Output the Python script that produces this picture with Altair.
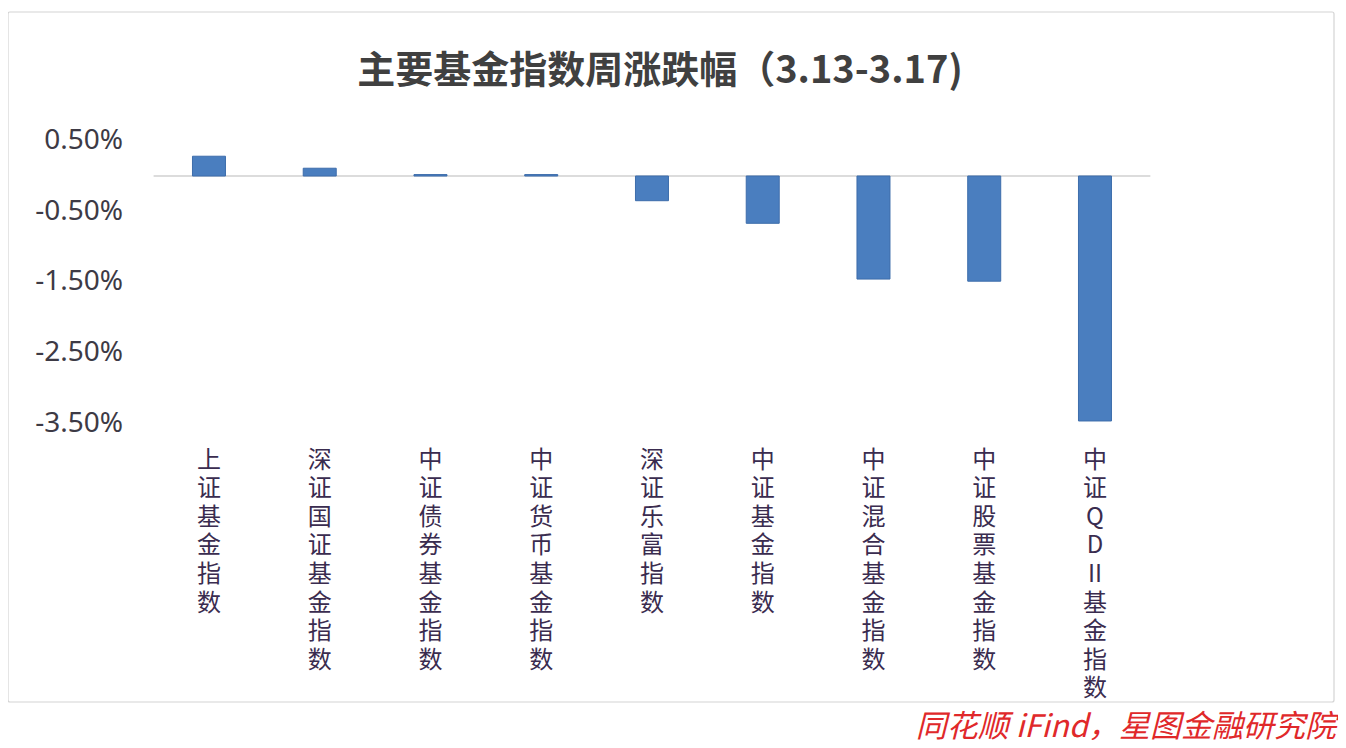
import altair as alt
import pandas as pd

categories = ["上证基金指数", "深证国证基金指数", "中证债券基金指数", "中证货币基金指数",
              "深证乐富指数", "中证基金指数", "中证混合基金指数", "中证股票基金指数",
              "中证QDII基金指数"]
values = [0.28, 0.11, 0.02, 0.02, -0.35, -0.67, -1.46, -1.49, -3.47]
y_ticks = [0.5, -0.5, -1.5, -2.5, -3.5]
title_text = "主要基金指数周涨跌幅（3.13-3.17)"
source_text = "同花顺 iFind，星图金融研究院"

df = pd.DataFrame({"name": categories, "value": values})

W, H = 996.75, 282.4
PL, PT = 145.6, 132.7
PR = 1330 - PL - W
PB = 732 - PT - H

label_expr = ("datum.label == '中证QDII基金指数' ? ['中','证','Q','D','II','基','金','指','数'] "
              ": split(datum.label, '')")

x = alt.X("name:N", sort=categories, title=None,
          scale=alt.Scale(paddingInner=0.702, paddingOuter=0.351),
          axis=alt.Axis(orient="bottom", domain=False, ticks=False, labelAngle=0,
                        labelExpr=label_expr, labelFontSize=24, labelLineHeight=28.6,
                        labelColor="#3a2c4f", labelFont="Noto Sans CJK SC",
                        labelPadding=25, labelBaseline="top", labelOverlap=False))
y = alt.Y("value:Q", title=None,
          scale=alt.Scale(domain=[-3.5, 0.5], nice=False, zero=False),
          axis=alt.Axis(values=y_ticks,
                        labelExpr="(datum.value < 0 ? '-' : '') + format(abs(datum.value), '.2f') + '%'",
                        domain=False, ticks=False, grid=False, labelFontSize=28,
                        labelColor="#3d3a45", labelFont="Noto Sans", labelPadding=31))

base = alt.Chart(df)

border = alt.Chart(pd.DataFrame({"a": [0]})).mark_rect(
    filled=False, stroke="#d4d4d4", strokeWidth=1.2, cornerRadius=2
).encode(x=alt.value(8 - 153.6), x2=alt.value(1334 - 153.6),
         y=alt.value(12 - 140.7), y2=alt.value(702 - 140.7))

bars = base.mark_bar(color="#4a7ebf", stroke="#3d6dab", strokeWidth=1).encode(x=x, y=y, y2=alt.datum(0))

zero = alt.Chart(pd.DataFrame({"z": [0]})).mark_rule(color="#d0d0d0", strokeWidth=1.5).encode(
    y=alt.Y("z:Q", scale=alt.Scale(domain=[-3.5, 0.5], nice=False, zero=False)))

title = alt.Chart(pd.DataFrame({"t": [title_text]})).mark_text(
    fontSize=38, fontWeight="bold", color="#404040", font="Noto Sans CJK SC",
    align="center", baseline="middle"
).encode(text="t:N", x=alt.value(660 - 153.6), y=alt.value(72 - 140.7))

source = alt.Chart(pd.DataFrame({"s": [source_text]})).mark_text(
    fontSize=31, fontStyle="italic", color="#e0282a", font="Noto Sans CJK SC",
    align="right", baseline="middle"
).encode(text="s:N", x=alt.value(1336 - 153.6), y=alt.value(728 - 140.7))

chart = alt.layer(border, zero, bars, title, source).properties(
    width=W, height=H,
    background="white",
    autosize=alt.AutoSizeParams(type="none"),
    padding={"left": PL, "top": PT, "right": PR, "bottom": PB},
).configure_view(strokeWidth=0)

chart.save("out.html", embed_options={"renderer": "svg", "actions": False})
